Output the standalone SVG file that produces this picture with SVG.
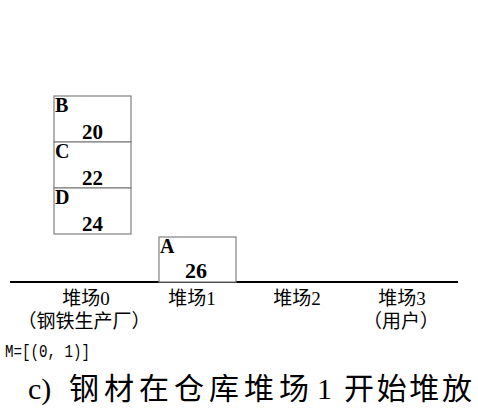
<svg xmlns="http://www.w3.org/2000/svg" width="478" height="412" viewBox="0 0 478 412">
<style>
.box{fill:#fff;stroke:#808080;stroke-width:1.2}
.lbl{font-family:"Liberation Serif",serif;font-weight:bold;font-size:20px;fill:#000}
.num{font-family:"Liberation Serif",serif;font-weight:bold;font-size:21px;fill:#000}
.yard{font-family:"Liberation Serif","Noto Sans CJK SC",sans-serif;font-size:19px;fill:#000;text-anchor:middle}
.mono{font-family:"Liberation Mono",monospace;font-size:19px;fill:#000}
.cap{font-family:"Liberation Serif","Noto Sans CJK SC",serif;font-size:30px;fill:#000}
</style>
<rect width="478" height="412" fill="#fff"/>
<g id="connectors">
<line x1="10" y1="282" x2="458" y2="282" stroke="#000" stroke-width="2"/>
</g>
<g id="node-B">
<rect class="box" x="54" y="96" width="77" height="46"/>
<text class="lbl" x="55" y="112">B</text>
<text class="num" x="82" y="139" textLength="21" lengthAdjust="spacingAndGlyphs">20</text>
</g>
<g id="node-C">
<rect class="box" x="54" y="142" width="77" height="46"/>
<text class="lbl" x="55" y="158">C</text>
<text class="num" x="82" y="185" textLength="21" lengthAdjust="spacingAndGlyphs">22</text>
</g>
<g id="node-D">
<rect class="box" x="54" y="188" width="77" height="46"/>
<text class="lbl" x="55" y="204">D</text>
<text class="num" x="82" y="231" textLength="21" lengthAdjust="spacingAndGlyphs">24</text>
</g>
<g id="node-A">
<rect class="box" x="159" y="237" width="77" height="45"/>
<text class="lbl" x="160" y="253">A</text>
<text class="num" x="185" y="278" textLength="22" lengthAdjust="spacingAndGlyphs">26</text>
</g>
<g id="yard0">
<text class="yard" x="86" y="305">堆场0</text>
<text class="yard" x="84" y="328">（钢铁生产厂）</text>
</g>
<g id="yard1"><text class="yard" x="192" y="305">堆场1</text></g>
<g id="yard2"><text class="yard" x="297" y="305">堆场2</text></g>
<g id="yard3">
<text class="yard" x="402" y="305">堆场3</text>
<text class="yard" x="401" y="328">（用户）</text>
</g>
<text class="mono" x="5" y="357" textLength="85" lengthAdjust="spacingAndGlyphs">M=[(0, 1)]</text>
<text class="cap" y="399"><tspan x="28">c)</tspan><tspan x="69" textLength="240" lengthAdjust="spacing">钢材在仓库堆场</tspan><tspan x="317">1</tspan><tspan x="344" textLength="128" lengthAdjust="spacing">开始堆放</tspan></text>
</svg>
